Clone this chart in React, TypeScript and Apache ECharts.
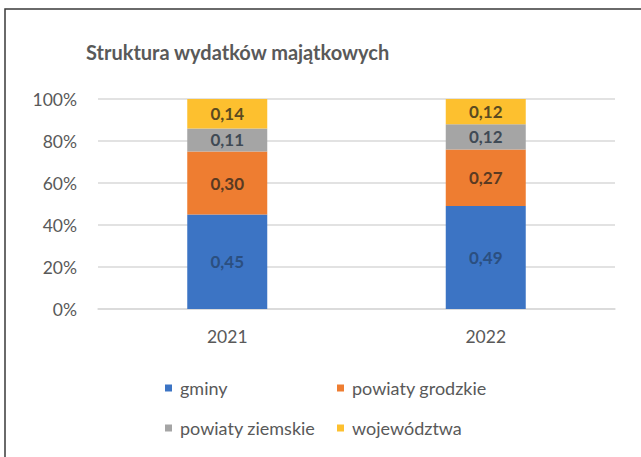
import React, { useEffect, useRef } from "react";
import * as echarts from "echarts";

const categories = ["2021", "2022"];
const gminy = [0.45, 0.49];
const powiatyGrodzkie = [0.30, 0.27];
const powiatyZiemskie = [0.11, 0.12];
const wojewodztwa = [0.14, 0.12];
const yTicks = [0, 0.2, 0.4, 0.6, 0.8, 1];

const FONT = "Lato, 'Open Sans', sans-serif";
const TXT = "#595959";

export default function App() {
  const ref = useRef<HTMLDivElement>(null);
  useEffect(() => {
    if (!ref.current) return;
    const chart = echarts.init(ref.current, undefined, { renderer: "svg" });
    const mkLabel = (color: string) => ({
      show: true,
      position: "inside",
      color,
      fontFamily: FONT,
      fontSize: 17,
      fontWeight: "bold",
      formatter: (p: any) => p.value.toFixed(2).replace(".", ","),
    });
    const mk = (name: string, data: number[], color: string, labelColor: string) => ({
      name,
      type: "bar",
      stack: "s",
      data,
      barWidth: 80,
      itemStyle: { color },
      label: mkLabel(labelColor),
    });
    const legendText = { color: TXT, fontFamily: FONT, fontSize: 18, padding: [0, 0, 0, 3] };
    const legendBase = {
      orient: "vertical",
      top: 374,
      itemWidth: 7,
      itemHeight: 7,
      itemGap: 22,
      icon: "rect",
      textStyle: legendText,
    };
    chart.setOption({
      animation: false,
      backgroundColor: "#fff",
      graphic: [
        {
          type: "rect",
          shape: { x: 5, y: 9, width: 700, height: 500 },
          style: { fill: "none", stroke: "#3a3a3a", lineWidth: 1.5 },
          silent: true,
        },
      ],
      title: {
        text: "Struktura wydatków majątkowych",
        left: 81,
        top: 37,
        textStyle: { color: TXT, fontFamily: FONT, fontSize: 20, fontWeight: "bold" },
      },
      legend: [
        { ...legendBase, data: ["gminy", "powiaty ziemskie"], left: 160 },
        { ...legendBase, data: ["powiaty grodzkie", "województwa"], left: 332 },
      ],
      grid: { left: 98, right: 26, top: 99, bottom: 148 },
      xAxis: {
        type: "category",
        data: categories,
        axisLine: { lineStyle: { color: "#d9d9d9", width: 1.5 } },
        axisTick: { show: false },
        axisLabel: { color: TXT, fontFamily: FONT, fontSize: 17.5, margin: 18 },
      },
      yAxis: {
        type: "value",
        min: yTicks[0],
        max: yTicks[yTicks.length - 1],
        interval: 0.2,
        axisLabel: {
          color: TXT,
          fontFamily: FONT,
          fontSize: 17.5,
          margin: 21,
          formatter: (v: number) => Math.round(v * 100) + "%",
        },
        splitLine: { lineStyle: { color: "#d9d9d9", width: 1.5 } },
      },
      series: [
        mk("gminy", gminy, "#3c74c4", "#2b4f80"),
        mk("powiaty grodzkie", powiatyGrodzkie, "#ee7d31", "#5a3a22"),
        mk("powiaty ziemskie", powiatyZiemskie, "#a5a5a5", "#3f4a55"),
        mk("województwa", wojewodztwa, "#fdc02f", "#5a4a20"),
      ],
    });
    return () => chart.dispose();
  }, []);
  return (
    <div
      ref={ref}
      style={{ position: "fixed", left: 0, top: 0, width: 641, height: 457, background: "#fff" }}
    />
  );
}
